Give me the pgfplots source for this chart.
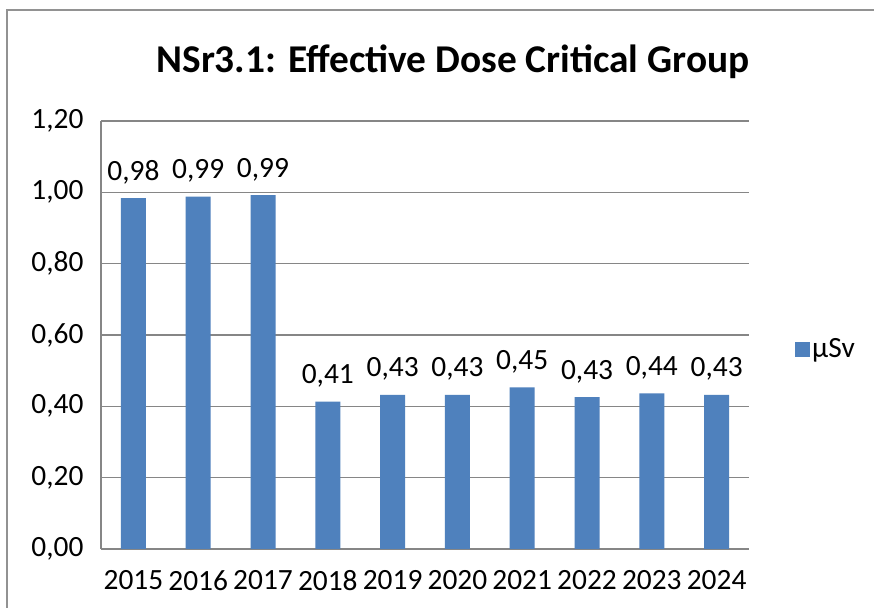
\documentclass[border=0pt]{standalone}
\usepackage{pgfplots}
\pgfplotsset{compat=1.18}
\usepackage{fontspec}
\setmainfont{Carlito}
\definecolor{barblue}{HTML}{4F81BD}
\definecolor{gridgray}{HTML}{868686}
\pgfkeys{/pgf/number format/.cd, fixed, fixed zerofill, precision=2, use comma, assume math mode=true}
\newcommand{\lblfont}{\fontsize{29.5}{34}\selectfont}
\begin{document}
\begin{tikzpicture}[x=1bp,y=1bp]
\useasboundingbox (0,0) rectangle (874,608);
\clip (0,0) rectangle (874,608);
\fill[white] (0,0) rectangle (874,608);
\draw[gridgray!90, line width=1.5bp] (7,-10) rectangle (890,598);
\node[font=\fontsize{39.5}{46}\selectfont\bfseries] at (453,546) {NSr3.1: Effective Dose Critical Group};
\begin{axis}[
  at={(101bp,59bp)}, anchor=south west,
  scale only axis, width=648bp, height=428bp,
  xmin=-0.5, xmax=9.5, ymin=0, ymax=1.2,
  ytick={0,0.2,0.4,0.6,0.8,1.0,1.2},
  xtick={0,1,2,3,4,5,6,7,8,9},
  xticklabels={2015,2016,2017,2018,2019,2020,2021,2022,2023,2024},
  axis lines*=left,
  axis line style={gridgray, line width=1.2bp},
  ymajorgrids, grid style={gridgray, line width=1.2bp},
  major tick length=0pt,
  tick style={draw=none},
  ticklabel style={font=\lblfont},
  yticklabel style={xshift=-14bp},
  xticklabel style={yshift=-18bp},
  ybar, bar width=25bp,
  nodes near coords,
  every node near coord/.append style={font=\lblfont, fill=white, inner ysep=1bp, inner xsep=4bp, yshift=13bp},
  legend style={at={(1.071,0.467)}, anchor=west, draw=none, fill=none, font=\lblfont, inner sep=0pt},
  legend image code/.code={\fill[#1] (0bp,-7.5bp) rectangle (15bp,7.5bp);},
]
\addplot[fill=barblue, draw=none] coordinates {
(0,0.984) (1,0.988) (2,0.992) (3,0.413) (4,0.432) (5,0.432) (6,0.453) (7,0.426) (8,0.436) (9,0.432)};
\addlegendentry{µSv}
\end{axis}
\end{tikzpicture}
\end{document}
